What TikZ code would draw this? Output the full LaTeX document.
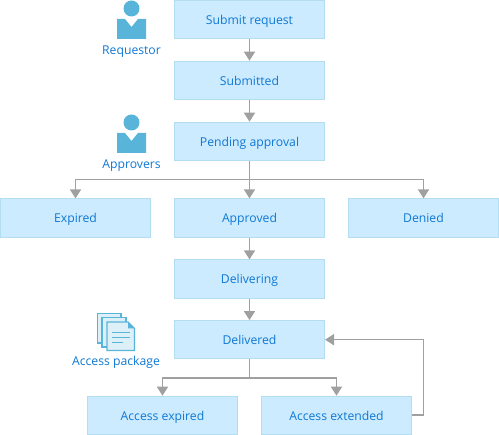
\documentclass[tikz,border=0pt]{standalone}
\usepackage{fontspec}
\setmainfont{Open Sans}
\usetikzlibrary{arrows.meta,calc}
\definecolor{boxfill}{HTML}{CCEBFF}
\definecolor{boxline}{HTML}{B3DDF0}
\definecolor{txt}{HTML}{0F78D4}
\definecolor{conn}{HTML}{A0A0A0}
\definecolor{icon}{HTML}{59B4D9}
\definecolor{page}{HTML}{DDF0F8}
\tikzset{
  x=1pt,y=-1pt,
  stepbox/.style={draw=boxline,line width=1pt,fill=boxfill,minimum width=150pt,minimum height=38.2pt,inner sep=0pt,text=txt,text height=11pt,text depth=1pt,font=\fontsize{12.2}{14}\selectfont},
  lab/.style={text=txt,inner sep=0pt,text height=11pt,text depth=1pt,font=\fontsize{12.2}{14}\selectfont},
  conn/.style={draw=conn,line width=1.6pt,-{Triangle[length=9pt,width=11pt]}},
  plain/.style={draw=conn,line width=1.6pt},
  sheet/.style={draw=icon,line width=1.4pt,fill=page},
}
\begin{document}
\begin{tikzpicture}
\useasboundingbox (0,0) rectangle (499,435);
\node[stepbox] (req) at (249.5,19.5) {Submit request};
\node[stepbox] (sub) at (249.5,80.3) {Submitted};
\node[stepbox] (pen) at (249.5,141.3) {Pending approval};
\node[stepbox] (exp) at (75.5,218) {Expired};
\node[stepbox] (app) at (249.5,218) {Approved};
\node[stepbox] (den) at (423.5,218) {Denied};
\node[stepbox] (dlg) at (249.5,279) {Delivering};
\node[stepbox] (dld) at (249.5,339.7) {Delivered};
\node[stepbox] (aex) at (162.5,415.3) {Access expired};
\node[stepbox] (ext) at (336.5,415.3) {Access extended};
\node[lab] (l1) at (131.5,50) {Requestor};
\node[lab] (l2) at (131.5,164) {Approvers};
\node[lab] (l3) at (116,360.7) {Access package};
\draw[conn] (req) -- (sub);
\draw[conn] (sub) -- (pen);
\draw[conn] (pen) -- (app);
\coordinate (j1) at (249.5,179.5);
\draw[conn] (j1) -| (exp.north);
\draw[conn] (j1) -| (den.north);
\draw[conn] (app) -- (dlg);
\draw[conn] (dlg) -- (dld);
\coordinate (j2) at (249.5,378);
\draw[plain] (dld.south) -- (j2);
\draw[conn] (j2) -| (aex.north);
\draw[conn] (j2) -| (ext.north);
\coordinate (c) at (423.5,415.3);
\draw[plain] (ext.east) -- (c);
\draw[conn] (c) |- (dld.east);
% person icons
\fill[icon] (131.5,8.5) circle (8);
\fill[icon] (117,19) -- (125,19) -- (131.5,27) -- (138,19) -- (146,19) -- (146,39) -- (117,39) -- cycle;
\fill[icon] (131.5,122.5) circle (8);
\fill[icon] (117,133) -- (125,133) -- (131.5,141) -- (138,133) -- (146,133) -- (146,153) -- (117,153) -- cycle;
% package icon
\draw[sheet] (97.5,313.5) rectangle (121,343);
\draw[sheet] (102,317.5) rectangle (126,347);
\draw[sheet] (107,322) -- (128,322) -- (134.5,328.5) -- (134.5,350.5) -- (107,350.5) -- cycle;
\fill[icon] (128,322) -- (134.5,328.5) -- (128,328.5) -- cycle;
\draw[icon,line width=1pt] (112,333) -- (130,333) (112,338) -- (130,338) (112,343) -- (123,343);
\end{tikzpicture}
\end{document}
